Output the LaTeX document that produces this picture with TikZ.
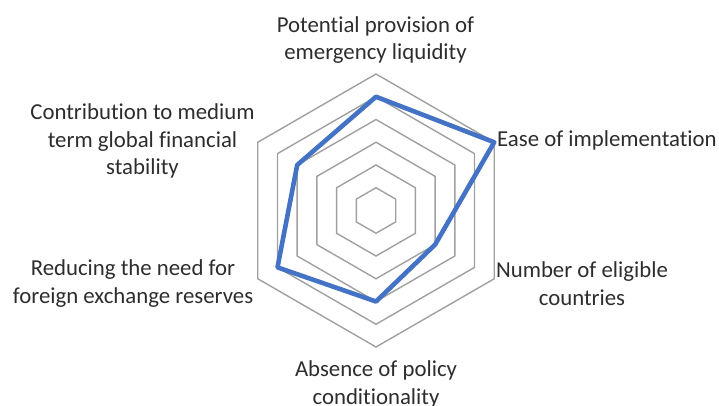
\documentclass[tikz,border=0pt]{standalone}
\usepackage{fontspec}
\setmainfont{Carlito}[Ligatures=NoCommon]
\definecolor{gridgray}{RGB}{160,160,160}
\definecolor{seriesblue}{RGB}{68,114,196}
\definecolor{txtgray}{RGB}{45,45,45}
\begin{document}
\begin{tikzpicture}[x=1pt,y=-1pt,
  grid/.style={draw=gridgray,line width=1.4pt,line join=miter},
  series/.style={draw=seriesblue,line width=4.6pt,line join=round},
  lbl/.style={font=\fontsize{22.8}{27.8}\selectfont,text=txtgray,align=center,inner sep=0pt,anchor=base}]
\useasboundingbox (0,0) rectangle (719,406);
\begin{scope}[shift={(376,210.5)}]
  \foreach \k in {1,...,6}{
    \pgfmathsetmacro\r{\k*22.75}
    \draw[grid] (-90:\r) -- (-30:\r) -- (30:\r) -- (90:\r) -- (150:\r) -- (210:\r) -- cycle;
  }
  \coordinate (p1) at (-90:5*22.75);
  \coordinate (p2) at (-30:6*22.75);
  \coordinate (p3) at (30:3*22.75);
  \coordinate (p4) at (90:4*22.75);
  \coordinate (p5) at (150:5*22.75);
  \coordinate (p6) at (210:4*22.75);
  \draw[series] (p1) -- (p2) -- (p3) -- (p4) -- (p5) -- (p6) -- cycle;
\end{scope}
\node[lbl] (lpot) at (375.5,60) {Potential provision of\\emergency liquidity};
\node[lbl,anchor=base west] (lease) at (497,147) {Ease of implementation};
\node[lbl] (lnum) at (582,305) {Number of eligible\\countries};
\node[lbl] (labs) at (376,404) {Absence of policy\\conditionality};
\node[lbl] (lred) at (133,303) {Reducing the need for\\foreign exchange reserves};
\node[lbl] (lcon) at (142.5,175) {Contribution to medium\\term global financial\\stability};
\end{tikzpicture}
\end{document}
